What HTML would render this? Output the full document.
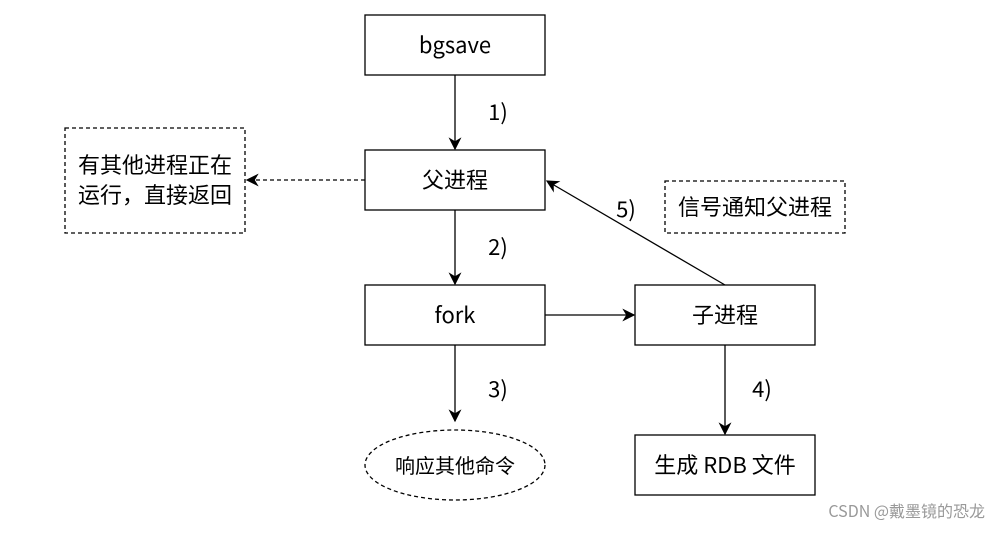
<!DOCTYPE html>
<html><head><meta charset="utf-8"><style>
html,body{margin:0;padding:0;background:#fff;}
svg text{font-family:"Noto Sans CJK SC","Liberation Sans",sans-serif;font-size:22px;fill:#000;}
</style></head><body>
<svg width="988" height="528" viewBox="0 0 988 528" xmlns="http://www.w3.org/2000/svg">
<defs><marker id="a" viewBox="0 0 10 10" refX="9" refY="5" markerWidth="13" markerHeight="13" markerUnits="userSpaceOnUse" orient="auto"><path d="M0,0 L10,5 L0,10 L3,5 Z" fill="#000"/></marker></defs>
<g fill="#fff" stroke="#000" stroke-width="1.3">
<rect x="365" y="15" width="180" height="60"/>
<rect x="365" y="150" width="180" height="60"/>
<rect x="365" y="285" width="180" height="60"/>
<rect x="635" y="285" width="180" height="60"/>
<rect x="635" y="435" width="180" height="60"/>
<rect x="65" y="128" width="180" height="105" stroke-dasharray="4,3"/>
<rect x="665" y="181" width="180" height="52" stroke-dasharray="4,3"/>
<ellipse cx="455" cy="465" rx="90" ry="35" stroke-dasharray="4,3"/>
</g>
<g stroke="#000" stroke-width="1.3" fill="none">
<line x1="455" y1="75" x2="455" y2="149" marker-end="url(#a)"/>
<line x1="455" y1="210" x2="455" y2="284" marker-end="url(#a)"/>
<line x1="455" y1="345" x2="455" y2="421" marker-end="url(#a)"/>
<line x1="545" y1="315" x2="634" y2="315" marker-end="url(#a)"/>
<line x1="725" y1="345" x2="725" y2="434" marker-end="url(#a)"/>
<line x1="725" y1="285" x2="547" y2="181" marker-end="url(#a)"/>
<line x1="365" y1="180" x2="247" y2="180" stroke-dasharray="4,3" marker-end="url(#a)"/>
</g>
<g text-anchor="middle">
<text x="455" y="53">bgsave</text>
<text x="455" y="188">父进程</text>
<text x="455" y="323">fork</text>
<text x="725" y="323">子进程</text>
<text x="725" y="473">生成 RDB 文件</text>
<text x="455" y="473" style="font-size:20px">响应其他命令</text>
<text x="155" y="173">有其他进程正在</text>
<text x="155" y="203">运行，直接返回</text>
<text x="755" y="215">信号通知父进程</text>
<text x="498" y="120">1)</text>
<text x="498" y="255">2)</text>
<text x="498" y="397">3)</text>
<text x="762" y="397">4)</text>
<text x="626" y="217">5)</text>
</g>
<text x="985" y="517" text-anchor="end" style="font-size:16px;fill:#999">CSDN @戴墨镜的恐龙</text>
</svg>
</body></html>
